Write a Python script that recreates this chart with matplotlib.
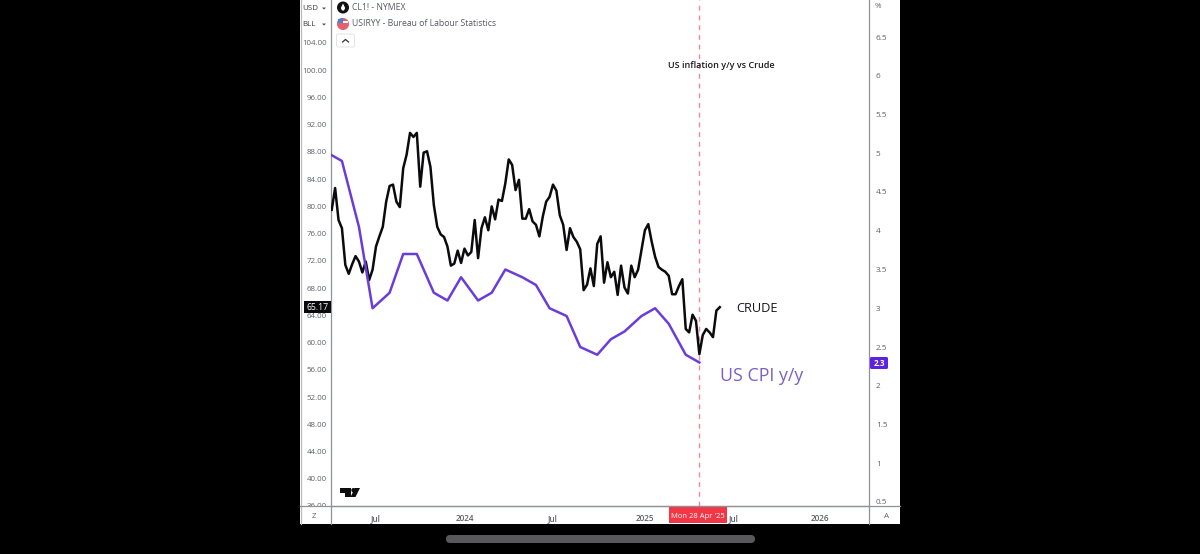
import numpy as np
import pandas as pd
import matplotlib
matplotlib.use("Agg")
import matplotlib.pyplot as plt
import matplotlib.dates as mdates
from matplotlib.patches import Rectangle, Circle, FancyBboxPatch, Polygon
from matplotlib.transforms import Bbox

plt.rcParams["font.family"] = ["Open Sans", "DejaVu Sans"]

W, H = 1200, 554

# CL1! weekly closes
crude_start = "2023-04-03"
crude = [
    79.5, 82.7, 78.0, 76.8, 71.4, 70.1, 71.5, 72.7, 71.9, 70.3,
    71.9, 69.2, 70.7, 74.1, 75.6, 77.0, 80.7, 83.0, 83.2, 80.7,
    79.9, 85.6, 87.6, 90.8, 90.2, 90.8, 82.9, 87.9, 88.1, 85.8,
    80.2, 77.0, 75.9, 75.5, 74.1, 71.3, 71.6, 73.5, 71.7, 73.8,
    72.8, 73.3, 78.0, 72.4, 76.8, 78.4, 76.5, 80.0, 78.1, 81.0,
    80.8, 83.4, 86.9, 86.1, 82.4, 83.9, 78.2, 78.2, 79.6, 77.8,
    77.3, 75.6, 78.5, 80.7, 81.4, 83.2, 82.3, 78.7, 77.3, 73.6,
    76.8, 75.5, 74.8, 73.7, 67.7, 68.5, 70.9, 68.3, 74.5, 75.6,
    68.8, 71.8, 69.6, 70.4, 67.0, 71.3, 68.1, 67.2, 71.3, 69.6,
    70.7, 73.6, 76.5, 77.4, 74.8, 72.6, 71.1, 70.7, 70.4, 69.8,
    67.1, 67.1, 68.3, 69.3, 62.0, 61.5, 64.1, 63.2, 58.3, 61.1,
    62.0, 61.5, 60.8, 64.7, 65.2,
]
crude_dates = pd.date_range(crude_start, periods=len(crude), freq="7D")

# US CPI y/y, monthly
cpi_dates = pd.to_datetime([
    "2023-03-27", "2023-04-24", "2023-05-29", "2023-06-26", "2023-07-31",
    "2023-08-28", "2023-09-25", "2023-10-30", "2023-11-27", "2023-12-25",
    "2024-01-29", "2024-02-26", "2024-03-25", "2024-04-29", "2024-05-27",
    "2024-06-24", "2024-07-29", "2024-08-26", "2024-09-30", "2024-10-28",
    "2024-11-25", "2024-12-30", "2025-01-27", "2025-02-24", "2025-03-31",
    "2025-04-28",
])
cpi = [5.0, 4.9, 4.05, 3.0, 3.2, 3.7, 3.7, 3.2, 3.1, 3.4, 3.1, 3.2, 3.5,
       3.4, 3.3, 3.0, 2.9, 2.5, 2.4, 2.6, 2.7, 2.9, 3.0, 2.8, 2.4, 2.3]

price_ticks = list(range(36, 108, 4))
pct_ticks = [0.5, 1, 1.5, 2, 2.5, 3, 3.5, 4, 4.5, 5, 5.5, 6, 6.5]
x_ticks = ["2023-07-03", "2024-01-01", "2024-07-01", "2025-01-06", "2025-07-07", "2026-01-01"]
x_labels = ["Jul", "2024", "Jul", "2025", "Jul", "2026"]
cursor_date = "2025-04-28"

BLACK_LINE = "#0b0b0d"
PURPLE = "#6a3ddb"
AXIS_GREY = "#8f9196"
LABEL_GREY = "#5d6068"

fig = plt.figure(figsize=(W / 100, H / 100), dpi=100, facecolor="black")

# overlay in screenshot pixels for the app chrome
chrome = fig.add_axes([0, 0, 1, 1], zorder=0)
chrome.set_xlim(0, W)
chrome.set_ylim(H, 0)
chrome.axis("off")
chrome.add_patch(Rectangle((300, 0), 600, 524, fc="white", ec="none"))
chrome.add_patch(FancyBboxPatch((446, 535), 309, 8, boxstyle="round,pad=0,rounding_size=4",
                                fc="#59595b", ec="none"))

ax = fig.add_axes([331 / W, (H - 506) / H, (869 - 331) / W, 506 / H], zorder=1)
ax.patch.set_alpha(0)
ax.plot(crude_dates, crude, color=BLACK_LINE, lw=1.8, solid_joinstyle="round", zorder=3)
x0 = mdates.date2num(pd.Timestamp("2023-07-01"))
ax.set_xlim(x0 - 44 / 0.4863, x0 + 494 / 0.4863)
ax.set_ylim(104 - 506 / 6.81 + 43 / 6.81, 104 + 43 / 6.81)
ax.set_yticks(price_ticks)
ax.set_yticklabels([f"{v:.2f}" for v in price_ticks], fontsize=5.7, color=LABEL_GREY)
ax.set_xticks(pd.to_datetime(x_ticks))
ax.set_xticklabels(x_labels, fontsize=5.9, color=LABEL_GREY, fontweight="semibold")
ax.tick_params(axis="y", length=0, pad=3)
ax.tick_params(axis="x", length=0, pad=6)
ax.axvline(pd.Timestamp(cursor_date), color="#f0899b", lw=1.0, ls=(0, (3.5, 3.5)), zorder=1)
ax.spines["top"].set_visible(False)
for s in ["left", "right", "bottom"]:
    ax.spines[s].set_color(AXIS_GREY)
    ax.spines[s].set_linewidth(0.9)

# the lowest price label is cut by the time axis
for lab in ax.get_yticklabels():
    lab.set_clip_on(True)
    lab.set_clip_box(Bbox([[300, H - 506], [331, H]]))

ax2 = ax.twinx()
ax2.patch.set_alpha(0)
ax2.plot(cpi_dates, cpi, color=PURPLE, lw=1.8, solid_joinstyle="round", zorder=3)
ax2.set_ylim(6.5 - (506 - 37) / 77.5, 6.5 + 37 / 77.5)
ax2.set_yticks(pct_ticks)
ax2.set_yticklabels([f"{v:g}" for v in pct_ticks], fontsize=5.9, color=LABEL_GREY)
ax2.tick_params(axis="y", length=0, pad=5)
for s in ["top", "left", "right", "bottom"]:
    ax2.spines[s].set_visible(False)

# front overlay for annotations and badges
top = fig.add_axes([0, 0, 1, 1], zorder=5)
top.set_xlim(0, W)
top.set_ylim(H, 0)
top.axis("off")
top.patch.set_alpha(0)

top.text(721.5, 65.5, "US inflation y/y vs Crude", ha="center", va="center", fontsize=6.5,
         color="#1a1a1f", fontweight="semibold")
top.text(757, 308, "CRUDE", ha="center", va="center", fontsize=9.2, color="#15151a")
top.text(762, 376, "US CPI y/y", ha="center", va="center", fontsize=12.8, color="#7a5fc4")

# price badges
top.add_patch(Rectangle((304, 301), 27, 12, fc="#0a0a0c", ec="none"))
top.text(317.5, 307, "65.17", ha="center", va="center", fontsize=6.2, color="white")
top.add_patch(FancyBboxPatch((870, 357), 18, 12, boxstyle="round,pad=0,rounding_size=1.5",
                             fc="#5b22e0", ec="none"))
top.text(879, 363, "2.3", ha="center", va="center", fontsize=5.8, color="white", fontweight="bold")
top.add_patch(Rectangle((669, 507), 58, 16, fc="#f23645", ec="none"))
top.text(698, 516, "Mon 28 Apr '25", ha="center", va="center", fontsize=5.5, color="white")

# scale buttons and currency labels
top.plot([300.5, 300.5], [0, 524], color="#b8b9bc", lw=0.9)
top.plot([300, 900], [506, 506], color=AXIS_GREY, lw=0.9)
top.plot([331, 331], [506, 524], color=AXIS_GREY, lw=0.9)
top.plot([869, 869], [506, 524], color=AXIS_GREY, lw=0.9)
top.text(314, 517, "Z", ha="center", va="center", fontsize=5.8, color=LABEL_GREY)
top.text(886, 517, "A", ha="center", va="center", fontsize=5.8, color=LABEL_GREY)
top.text(302, 8, "USD", ha="left", va="center", fontsize=5.8, color="#3c3e45")
top.text(302, 24, "BLL", ha="left", va="center", fontsize=5.8, color="#3c3e45")
top.text(875, 7, "%", ha="left", va="center", fontsize=5.8, color=LABEL_GREY)
for y in (8.5, 24.5):
    top.add_patch(Polygon([[322, y - 1], [326, y - 1], [324, y + 1.2]], fc="#555", ec="none"))

# legend rows
top.add_patch(Circle((343, 7.5), 6, fc="#111", ec="none"))
top.add_patch(Polygon([[343, 3.5], [340.8, 8], [342, 10.5], [344, 10.5], [345.2, 8]], fc="white", ec="none"))
top.add_patch(Circle((343, 24), 6, fc="#e4606a", ec="none"))
top.add_patch(Rectangle((337.8, 21), 10.4, 2, fc="white", ec="none"))
top.add_patch(Polygon([[338, 19], [343, 18], [343, 23], [337.5, 23]], fc="#4f7fd6", ec="none"))
top.text(352, 8, "CL1! - NYMEX", ha="left", va="center", fontsize=6.2, color="#565a62")
top.text(352, 24, "USIRYY - Bureau of Labour Statistics", ha="left", va="center", fontsize=6.2, color="#565a62")
top.add_patch(FancyBboxPatch((336.5, 34), 18, 13, boxstyle="round,pad=0,rounding_size=1.5",
                             fc="white", ec="#e4e4e6", lw=0.7))
top.plot([342.5, 345.5, 348.5], [42, 39.5, 42], color="#333", lw=0.9)

# TradingView mark
top.add_patch(Polygon([[340, 488], [351, 488], [351, 497], [345, 497], [345, 493], [340, 493]],
                      fc="#0d0d10", ec="none"))
top.add_patch(Circle((353.5, 490.2), 2.2, fc="#0d0d10", ec="none"))
top.add_patch(Polygon([[355, 488], [360, 488], [355.5, 497], [350.5, 497]], fc="#0d0d10", ec="none"))

fig.savefig("out.png", dpi=100, facecolor="black")
